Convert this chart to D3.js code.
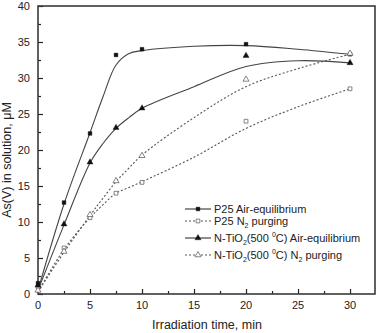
<!DOCTYPE html>
<html>
<head>
<meta charset="utf-8">
<script src="https://cdn.jsdelivr.net/npm/d3@7"></script>
<style>
  body { margin: 0; background: #fff; }
  text { font-family: Arial, "Liberation Sans", sans-serif; fill: #222; }
</style>
</head>
<body>
<div class="canvas"></div>
<script>
// measured points
const time = [0, 2.5, 5, 7.5, 10, 20, 30]
const p25Air = [1.5, 12.7, 22.3, 33.2, 34.0, 34.7, 33.3]
const p25N2 = [1.0, 6.4, 10.6, 14.0, 15.5, 24.0, 28.5]
const ntiAir = [1.2, 9.7, 18.3, 23.1, 25.8, 33.1, 32.1]
const ntiN2 = [0.5, 5.9, 11.0, 15.7, 19.2, 29.8, 33.4]

// fitted curves
const fitTime = [0, 2.5, 5, 6.25, 7.5, 8.75, 10, 15, 20, 25, 30]
const p25AirFit = [0.5, 12.5, 22.4, 27.4, 31.8, 33.4, 33.8, 34.4, 34.5, 34.0, 33.3]
const p25N2Fit = [0.3, 6.2, 10.6, 12.4, 14.0, 14.8, 15.6, 19.0, 23.0, 26.0, 28.5]
const ntiAirFit = [0.5, 9.6, 18.2, 20.9, 23.0, 24.5, 25.8, 28.8, 31.6, 32.4, 32.1]
const ntiN2Fit = [0.3, 5.8, 10.9, 13.3, 15.6, 17.5, 19.3, 24.5, 28.8, 31.3, 33.3]

const xTicks = [0, 5, 10, 15, 20, 25, 30]
const yTicks = [0, 5, 10, 15, 20, 25, 30, 35, 40]

// 1 - dimensions
const dims = { width: 378, height: 333 }
const plot = { left: 38, right: 375, top: 6, bottom: 294 }

const svg = d3.select('.canvas')
    .append('svg')
    .attr('width', dims.width)
    .attr('height', dims.height)

const x = d3.scaleLinear().domain([0, 32.4]).range([plot.left, plot.right])
const y = d3.scaleLinear().domain([0, 40]).range([plot.bottom, plot.top])

// 2 - axes (ticks point inward)
const xAxis = svg.append('g')
    .attr('transform', `translate(0, ${plot.bottom})`)
    .call(d3.axisBottom(x).tickValues(d3.range(0, 32.5, 2.5)).tickSize(-3).tickFormat(''))
xAxis.select('.domain').remove()
xAxis.selectAll('.tick')
    .filter(d => xTicks.includes(d))
    .select('line').attr('y2', -5)
xAxis.selectAll('.tick line').attr('stroke', '#222').attr('stroke-width', 1.2)

svg.selectAll('.xlab')
    .data(xTicks)
    .enter().append('text')
    .attr('x', d => x(d))
    .attr('y', 309)
    .attr('text-anchor', 'middle')
    .attr('font-size', 11)
    .text(d => d)

const yAxis = svg.append('g')
    .attr('transform', `translate(${plot.left}, 0)`)
    .call(d3.axisLeft(y).tickValues(d3.range(0, 40.1, 2.5)).tickSize(-3).tickFormat(''))
yAxis.select('.domain').remove()
yAxis.selectAll('.tick')
    .filter(d => yTicks.includes(d))
    .select('line').attr('x2', 5)
yAxis.selectAll('.tick line').attr('stroke', '#222').attr('stroke-width', 1.2)

svg.selectAll('.ylab')
    .data(yTicks)
    .enter().append('text')
    .attr('x', 30)
    .attr('y', d => y(d) + 4)
    .attr('text-anchor', 'end')
    .attr('font-size', 11)
    .text(d => d)

// frame
svg.append('rect')
    .attr('x', plot.left).attr('y', plot.top)
    .attr('width', plot.right - plot.left)
    .attr('height', plot.bottom - plot.top)
    .attr('fill', 'none')
    .attr('stroke', '#3a3a3a')
    .attr('stroke-width', 1.6)

// axis titles
svg.append('text')
    .attr('x', 207).attr('y', 329)
    .attr('text-anchor', 'middle')
    .attr('font-size', 12.5)
    .text('Irradiation time, min')

svg.append('text')
    .attr('transform', 'translate(11, 160) rotate(-90)')
    .attr('text-anchor', 'middle')
    .attr('font-size', 12.5)
    .text('As(V) in solution, μM')

// 3 - series
const series = [
    { vals: p25Air, fit: p25AirFit, shape: 'square', filled: true, dash: null },
    { vals: p25N2, fit: p25N2Fit, shape: 'square', filled: false, dash: '2,2' },
    { vals: ntiAir, fit: ntiAirFit, shape: 'triangle', filled: true, dash: null },
    { vals: ntiN2, fit: ntiN2Fit, shape: 'triangle', filled: false, dash: '2,2' }
]

const line = d3.line()
    .x(d => x(d[0]))
    .y(d => y(d[1]))
    .curve(d3.curveCatmullRom.alpha(0.5))

const symbolPath = (shape, size) =>
    d3.symbol().type(shape === 'square' ? d3.symbolSquare : d3.symbolTriangle).size(size)()

const drawMarker = (g, s, cx, cy) => {
    g.append('path')
        .attr('d', symbolPath(s.shape, s.shape === 'square' ? 14 : 16))
        .attr('transform', `translate(${cx}, ${cy})`)
        .attr('fill', s.filled ? '#111' : '#fff')
        .attr('stroke', s.filled ? '#111' : '#666')
        .attr('stroke-width', s.filled ? 0.4 : 0.8)
}

series.forEach(s => {
    svg.append('path')
        .datum(fitTime.map((t, i) => [t, s.fit[i]]))
        .attr('d', line)
        .attr('fill', 'none')
        .attr('stroke', s.dash ? '#555' : '#444')
        .attr('stroke-width', 1.1)
        .attr('stroke-dasharray', s.dash)
})

series.forEach(s => {
    const g = svg.append('g')
    time.forEach((t, i) => drawMarker(g, s, x(t), y(s.vals[i])))
})

// 4 - legend
const legendRows = [
    { s: series[0], y: 209, parts: [['P25 Air-equilibrium', null]] },
    { s: series[1], y: 221, parts: [['P25 N', null], ['2', 'sub'], [' purging', null]] },
    { s: series[2], y: 238, parts: [['N-TiO', null], ['2', 'sub'], ['(500 ', null], ['0', 'sup'], ['C) Air-equilibrium', null]] },
    { s: series[3], y: 255, parts: [['N-TiO', null], ['2', 'sub'], ['(500 ', null], ['0', 'sup'], ['C) N', null], ['2', 'sub'], [' purging', null]] }
]

const legend = svg.append('g')
legendRows.forEach(r => {
    legend.append('line')
        .attr('x1', 185).attr('x2', 211)
        .attr('y1', r.y).attr('y2', r.y)
        .attr('stroke', r.s.dash ? '#555' : '#333')
        .attr('stroke-width', 1.1)
        .attr('stroke-dasharray', r.s.dash)
    drawMarker(legend, r.s, 198, r.y)
    const txt = legend.append('text')
        .attr('x', 214).attr('y', r.y + 4)
        .attr('font-size', 11)
    r.parts.forEach((p, i) => {
        const ts = txt.append('tspan').text(p[0])
        if (p[1] === 'sub') ts.attr('font-size', 7).attr('dy', 3)
        if (p[1] === 'sup') ts.attr('font-size', 7).attr('dy', -5)
        if (p[1] === null && i > 0) {
            // back to baseline after sub/sup
            const prev = r.parts[i - 1]
            if (prev[1] === 'sub') ts.attr('dy', -3)
            if (prev[1] === 'sup') ts.attr('dy', 5)
        }
    })
})
</script>
</body>
</html>
